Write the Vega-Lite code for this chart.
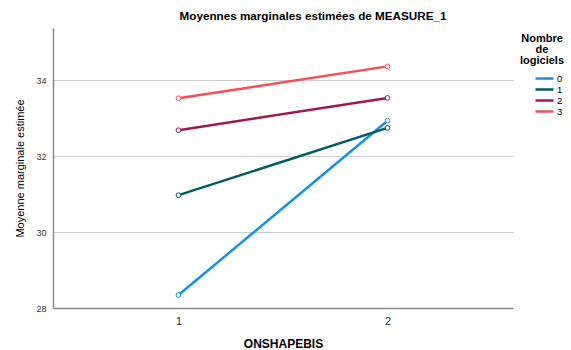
{
  "$schema": "https://vega.github.io/schema/vega-lite/v6.json",
  "width": 460,
  "height": 280,
  "autosize": {"type": "none"},
  "padding": {"left": 53, "top": 28, "right": 58, "bottom": 42},
  "background": "white",
  "config": {
    "font": "Liberation Sans",
    "view": {"stroke": null}
  },
  "title": {
    "text": "Moyennes marginales estimées de MEASURE_1",
    "fontSize": 11.7,
    "fontWeight": "bold",
    "color": "#000000",
    "anchor": "middle",
    "frame": "group",
    "dx": 30,
    "offset": 5
  },
  "data": {
    "values": [
      {"ONSHAPEBIS": 1, "logiciels": "0", "moyenne": 28.34},
      {"ONSHAPEBIS": 2, "logiciels": "0", "moyenne": 32.93},
      {"ONSHAPEBIS": 1, "logiciels": "1", "moyenne": 30.97},
      {"ONSHAPEBIS": 2, "logiciels": "1", "moyenne": 32.74},
      {"ONSHAPEBIS": 1, "logiciels": "2", "moyenne": 32.68},
      {"ONSHAPEBIS": 2, "logiciels": "2", "moyenne": 33.53},
      {"ONSHAPEBIS": 1, "logiciels": "3", "moyenne": 33.52},
      {"ONSHAPEBIS": 2, "logiciels": "3", "moyenne": 34.36}
    ]
  },
  "encoding": {
    "x": {
      "field": "ONSHAPEBIS",
      "type": "quantitative",
      "scale": {"domain": [0.4, 2.6], "nice": false, "zero": false},
      "axis": {
        "title": "ONSHAPEBIS",
        "values": [1, 2],
        "format": "d",
        "grid": false,
        "ticks": false,
        "domainColor": "#888888",
        "domainWidth": 1.5,
        "labelFontSize": 11,
        "labelColor": "#333333",
        "labelPadding": 7,
        "titleFontSize": 12,
        "titleFontWeight": "bold",
        "titleColor": "#000000",
        "titlePadding": 12
      }
    },
    "y": {
      "field": "moyenne",
      "type": "quantitative",
      "scale": {"domain": [28, 35.37], "nice": false, "zero": false},
      "axis": {
        "title": "Moyenne marginale estimée",
        "values": [28, 30, 32, 34],
        "grid": true,
        "gridColor": "#cccccc",
        "ticks": false,
        "domainColor": "#888888",
        "domainWidth": 1.5,
        "labelFontSize": 9,
        "labelColor": "#333333",
        "labelPadding": 7,
        "titleFontSize": 11,
        "titleFontWeight": "normal",
        "titleColor": "#000000",
        "titlePadding": 10
      }
    },
    "color": {
      "field": "logiciels",
      "type": "nominal",
      "scale": {
        "domain": ["0", "1", "2", "3"],
        "range": ["#1192e8", "#005d5d", "#9f1853", "#fa4d56"]
      },
      "legend": {
        "title": ["Nombre", "de", "logiciels"],
        "orient": "none",
        "legendX": 467,
        "legendY": 5,
        "titleFontSize": 11,
        "titleFontWeight": "bold",
        "titleColor": "#000000",
        "titleAlign": "center",
        "titleAnchor": "middle",
        "titleLineHeight": 11,
        "titlePadding": 7,
        "labelFontSize": 9.5,
        "labelColor": "#000000",
        "labelOffset": 2,
        "symbolType": "stroke",
        "symbolSize": 324,
        "symbolStrokeWidth": 2.5,
        "symbolOffset": 12,
        "clipHeight": 11,
        "rowPadding": 0,
        "padding": 0
      }
    }
  },
  "layer": [
    {"mark": {"type": "line", "strokeWidth": 2.5}},
    {"mark": {"type": "point", "filled": false, "fill": "white", "size": 22, "strokeWidth": 1, "opacity": 1}}
  ]
}
